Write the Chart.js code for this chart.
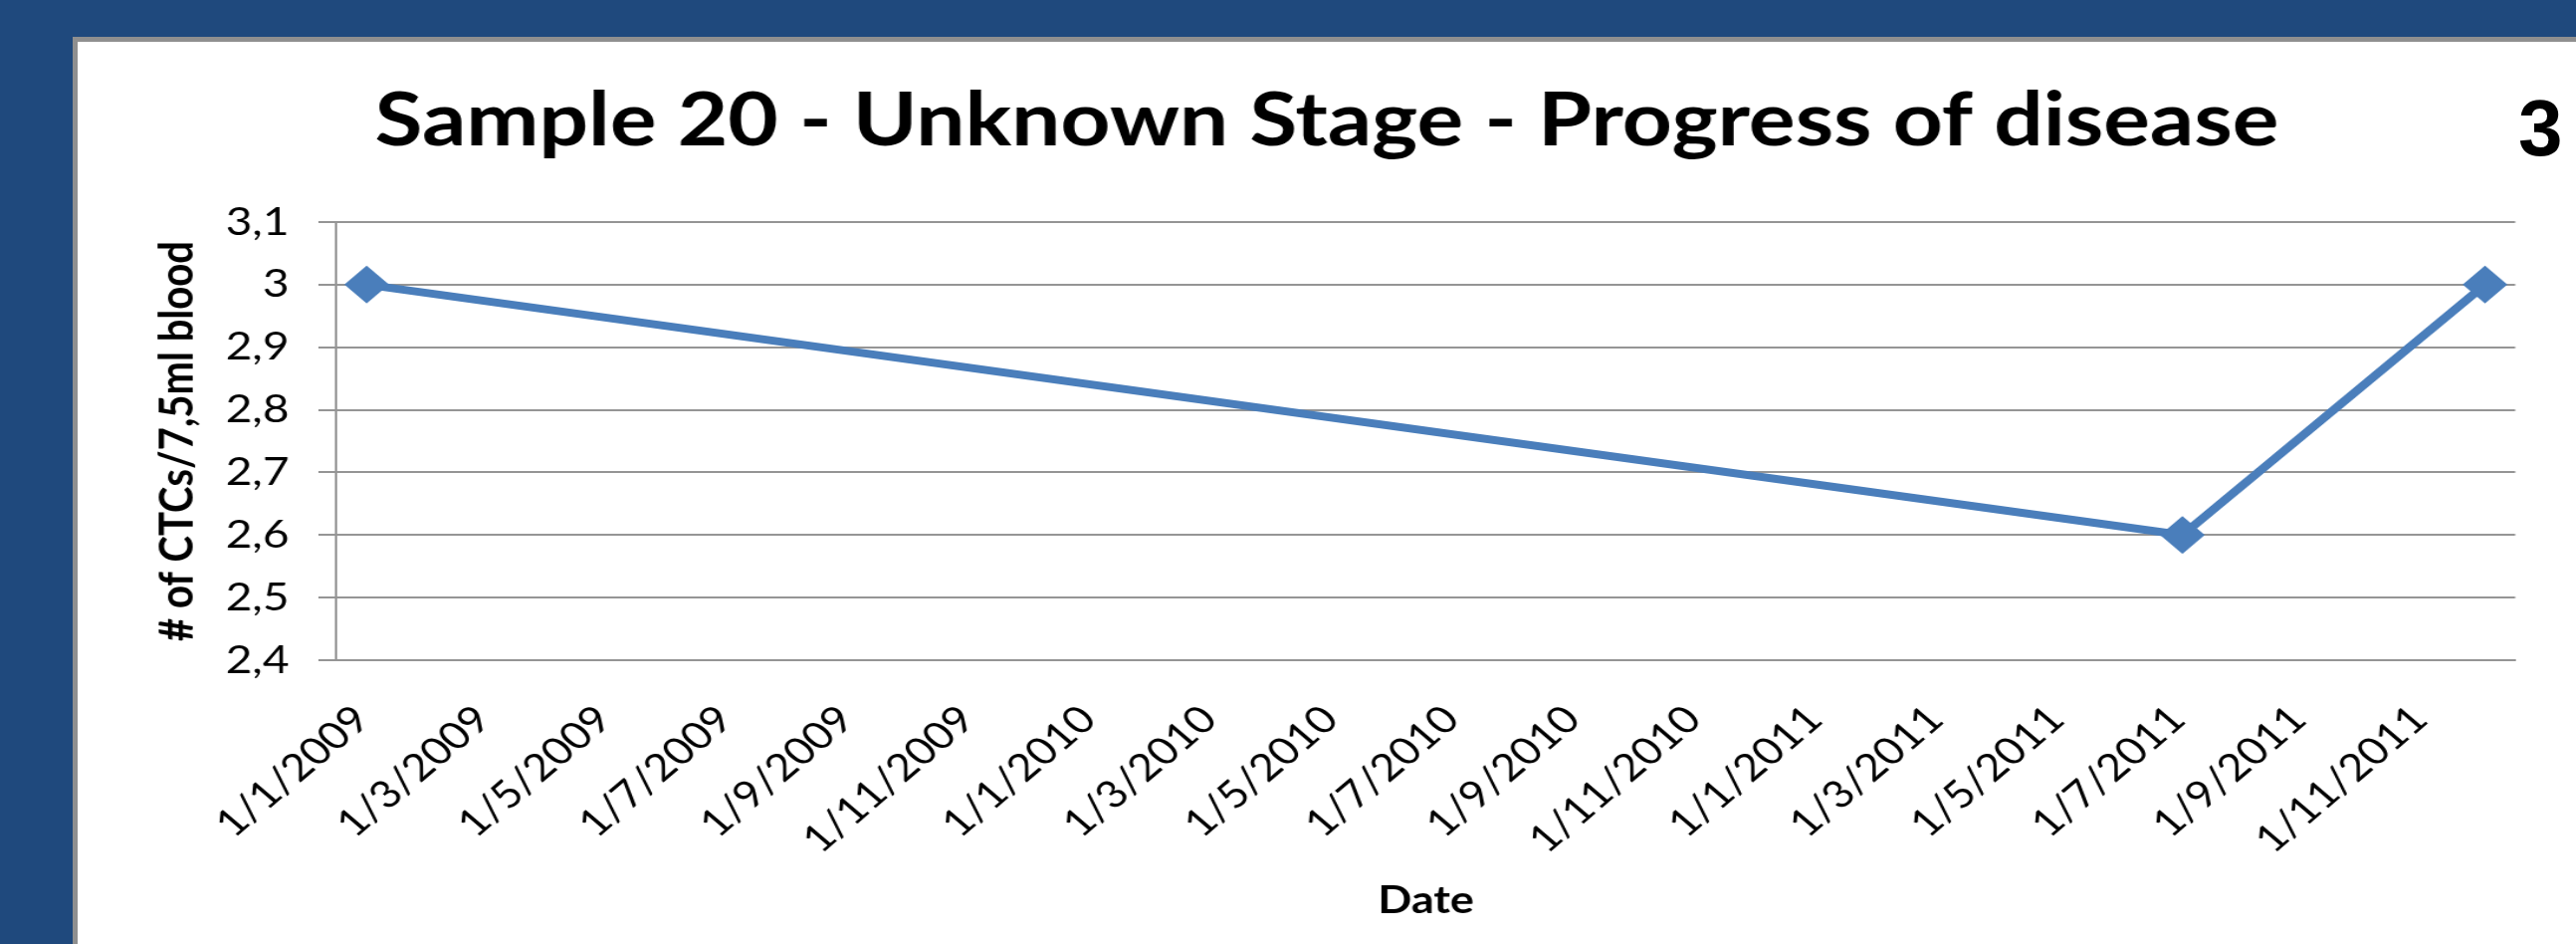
<!DOCTYPE html>
<html>
<head>
<meta charset="utf-8">
<script src="https://cdn.jsdelivr.net/npm/chart.js@4.4.1/dist/chart.umd.min.js"></script>
<style>
  html, body { margin: 0; padding: 0; }
  body { width: 2588px; height: 948px; background: #1F497D; position: relative; overflow: hidden; }
  #panel { position: absolute; left: 73px; top: 37px; width: 2510px; height: 906px;
           background: #ffffff; border-left: 5px solid #8f8f8f; border-top: 5px solid #8f8f8f; }
  /* the reference image is horizontally stretched; reproduce that stretch */
  #wrap { position: absolute; left: 0; top: 0; width: 2127px; height: 906px;
          transform: scaleX(1.18); transform-origin: 0 0; }
  #slideNo { position: absolute; left: 2530px; top: 89px; font-family: "Liberation Sans", Arial, sans-serif;
             font-weight: bold; font-size: 80px; line-height: 80px; color: #000; }
</style>
</head>
<body>
<div id="panel"><div id="wrap"><canvas id="c"></canvas></div></div>
<div id="slideNo">3</div>
<script>
// ---- data ----
const titleText = 'Sample 20 - Unknown Stage - Progress of disease';
const yAxisTitle = '# of CTCs/7,5ml blood';
const xAxisTitle = 'Date';
const dates = ['1/1/2009', '1/7/2011', '1/12/2011'];
const ctcValues = [3, 2.6, 3];
const xTickLabels = ['1/1/2009','1/3/2009','1/5/2009','1/7/2009','1/9/2009','1/11/2009',
                     '1/1/2010','1/3/2010','1/5/2010','1/7/2010','1/9/2010','1/11/2010',
                     '1/1/2011','1/3/2011','1/5/2011','1/7/2011','1/9/2011','1/11/2011'];
const yTickValues = [2.4, 2.5, 2.6, 2.7, 2.8, 2.9, 3, 3.1];
const axisStart = '1/1/2009';
const axisEnd = '1/12/2011';

// month index since axis start (date axis with month base unit)
function monthIndex(s) {
  const p = s.split('/').map(Number); // d/m/yyyy
  const b = axisStart.split('/').map(Number);
  return (p[2] - b[2]) * 12 + (p[1] - b[1]);
}
const points = dates.map((d, i) => ({ x: monthIndex(d), y: ctcValues[i] }));
const xTickPos = xTickLabels.map(monthIndex);
const fmtY = v => String(Number(v.toFixed(1))).replace('.', ',');

const LINE = '#4A7EBB';
const GRID = '#959595';
const FONT = 'Lato, "Open Sans", sans-serif';

new Chart(document.getElementById('c'), {
  type: 'line',
  data: {
    datasets: [{
      data: points,
      borderColor: LINE,
      backgroundColor: LINE,
      borderWidth: 8,
      pointStyle: 'rectRot',
      pointRadius: 19,
      pointHoverRadius: 19,
      pointBorderWidth: 0,
      tension: 0
    }]
  },
  options: {
    responsive: true,
    maintainAspectRatio: false,
    animation: false,
    events: [],
    layout: { padding: 0 },
    plugins: {
      legend: { display: false },
      tooltip: { enabled: false },
      title: {
        display: true,
        text: titleText,
        color: '#000',
        font: { family: FONT, size: 74, weight: 'bold' },
        padding: { top: 35.6, bottom: 56.6 }
      }
    },
    scales: {
      x: {
        type: 'linear',
        min: monthIndex(axisStart) - 0.5,
        max: monthIndex(axisEnd) + 0.5,
        afterBuildTicks: s => { s.ticks = xTickPos.map(v => ({ value: v })); },
        afterFit: s => { s.height = 285; },
        grid: { display: false, drawTicks: false },
        border: { display: true, color: GRID, width: 2 },
        ticks: {
          autoSkip: false,
          minRotation: 45,
          maxRotation: 45,
          padding: 37,
          labelOffset: -4,
          color: '#000',
          font: { family: FONT, size: 38 },
          callback: (v) => { const i = xTickPos.indexOf(v); return i >= 0 ? xTickLabels[i] : ''; }
        },
        title: {
          display: true,
          text: xAxisTitle,
          color: '#000',
          font: { family: FONT, size: 38, weight: 'bold' },
          padding: { top: 0, bottom: 20.7 }
        }
      },
      y: {
        min: 2.4,
        max: 3.1,
        afterBuildTicks: s => { s.ticks = yTickValues.map(v => ({ value: v })); },
        afterFit: s => { s.width = 220.3; },
        grid: { color: GRID, lineWidth: 2, tickLength: 15.3, drawTicks: true },
        border: { display: true, color: GRID, width: 2 },
        ticks: {
          padding: 25,
          color: '#000',
          font: { family: FONT, size: 39 },
          callback: v => fmtY(v)
        },
        title: {
          display: true,
          text: yAxisTitle,
          color: '#000',
          font: { family: FONT, size: 40, weight: 'bold' },
          padding: { top: 60.7, bottom: 0 }
        }
      },
      rightSpace: {
        type: 'linear',
        position: 'right',
        display: true,
        afterFit: s => { s.width = 51.6; },
        grid: { display: false, drawTicks: false },
        border: { display: false },
        ticks: { display: false }
      }
    }
  }
});
</script>
</body>
</html>
